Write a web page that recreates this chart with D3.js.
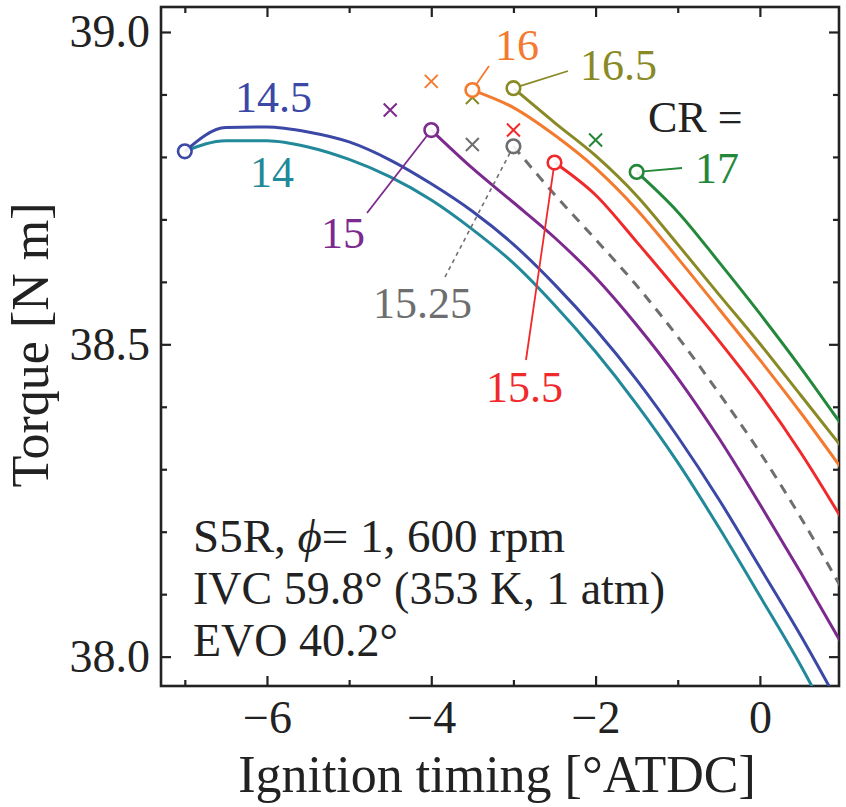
<!DOCTYPE html>
<html>
<head>
<meta charset="utf-8">
<script src="https://cdn.jsdelivr.net/npm/d3@7"></script>
<style>
body { margin: 0; background: #fff; }
text { font-family: "Liberation Serif", "Times New Roman", serif; }
</style>
</head>
<body>
<svg id="chart" width="846" height="807"></svg>
<script>
// ignition timing grid [deg ATDC]; every curve runs to the end of it
var ignition = [-7, -6.5, -6, -5.5, -5, -4.5, -4, -3.5, -3, -2.5, -2, -1.5, -1, -0.5, 0, 0.5, 1];

// torque [N m] per compression ratio (first value = open circle)
var torque14   = [38.809, 38.826, 38.826, 38.816, 38.796, 38.768, 38.731, 38.684, 38.630, 38.563, 38.488, 38.404, 38.311, 38.207, 38.097, 37.985, 37.860];
var torque14_5 = [38.809, 38.847, 38.848, 38.840, 38.824, 38.795, 38.757, 38.713, 38.660, 38.596, 38.524, 38.443, 38.352, 38.252, 38.143, 38.033, 37.915];
var torque15   = [38.843, 38.782, 38.727, 38.671, 38.607, 38.531, 38.446, 38.350, 38.244, 38.134, 38.020];
var torque15_25 = [38.817, 38.740, 38.668, 38.594, 38.512, 38.422, 38.327, 38.222, 38.108];
var torque15_5 = [38.791, 38.739, 38.664, 38.586, 38.506, 38.421, 38.326, 38.220];
var torque16   = [38.907, 38.879, 38.835, 38.782, 38.716, 38.638, 38.557, 38.475, 38.390, 38.300];
var torque16_5 = [38.910, 38.855, 38.802, 38.738, 38.660, 38.580, 38.501, 38.418, 38.335];
var torque17   = [38.776, 38.712, 38.632, 38.549, 38.462, 38.370];

// knock-onset crosses
var knockCR     = ["15", "16", "15.25", "16.5", "15.5", "17"];
var knockTiming = [-4.5, -4, -3.5, -3.5, -3, -2];
var knockTorque = [38.875, 38.921, 38.820, 38.895, 38.843, 38.827];

var xMajor = [-6, -4, -2, 0];
var xMinor = [-7, -5, -3, -1];
var yMajor = [38.0, 38.5, 39.0];
var yMinor = [38.1, 38.2, 38.3, 38.4, 38.6, 38.7, 38.8, 38.9];

var colors = {
  "14": "#21899a", "14.5": "#3b48a6", "15": "#7c2a8d", "15.25": "#6e6e6e",
  "15.5": "#f02a2a", "16": "#f37a2e", "16.5": "#898a26", "17": "#24883a"
};

var series = [
  {cr: "14", values: torque14, circle: false},
  {cr: "14.5", values: torque14_5, circle: true},
  {cr: "15", values: torque15, circle: true},
  {cr: "15.25", values: torque15_25, circle: true, dashed: true},
  {cr: "15.5", values: torque15_5, circle: true},
  {cr: "16", values: torque16, circle: true},
  {cr: "16.5", values: torque16_5, circle: true},
  {cr: "17", values: torque17, circle: true}
].map(function(s) {
  var off = ignition.length - s.values.length;
  s.points = s.values.map(function(v, i) { return [ignition[off + i], v]; });
  return s;
});

var pL = 161, pR = 839, pT = 7, pB = 686;
var x = d3.scaleLinear().domain([-7.29, 0.963]).range([pL, pR]);
var y = d3.scaleLinear().domain([37.953, 39.04]).range([pB, pT]);

var svg = d3.select("#chart");

svg.append("clipPath").attr("id", "plot")
  .append("rect").attr("x", pL).attr("y", pT)
  .attr("width", pR - pL).attr("height", pB - pT);

// axes, ticks pointing inward on all four sides
function tickAxis(axis, vals, size, labels) {
  return axis.tickValues(vals).tickSizeInner(-size).tickSizeOuter(0)
    .tickFormat(labels ? labels : "");
}
var fmtY = d3.format(".1f");
var fmtX = function(d) { return d < 0 ? "\u2212" + Math.abs(d) : d; };

var gx = svg.append("g").attr("transform", "translate(0," + pB + ")")
  .call(tickAxis(d3.axisBottom(x), xMajor, 10, fmtX).tickPadding(14));
svg.append("g").attr("transform", "translate(0," + pB + ")")
  .call(tickAxis(d3.axisBottom(x), xMinor, 6));
svg.append("g").attr("transform", "translate(0," + pT + ")")
  .call(tickAxis(d3.axisTop(x), xMajor, 10));
svg.append("g").attr("transform", "translate(0," + pT + ")")
  .call(tickAxis(d3.axisTop(x), xMinor, 6));
var gy = svg.append("g").attr("transform", "translate(" + pL + ",0)")
  .call(tickAxis(d3.axisLeft(y), yMajor, 10, fmtY).tickPadding(11));
svg.append("g").attr("transform", "translate(" + pL + ",0)")
  .call(tickAxis(d3.axisLeft(y), yMinor, 6));
svg.append("g").attr("transform", "translate(" + pR + ",0)")
  .call(tickAxis(d3.axisRight(y), yMajor, 10));
svg.append("g").attr("transform", "translate(" + pR + ",0)")
  .call(tickAxis(d3.axisRight(y), yMinor, 6));

svg.selectAll(".domain").remove();
svg.selectAll(".tick line").attr("stroke", "#222").attr("stroke-width", 2.2);
svg.selectAll(".tick text").attr("font-size", 46).attr("fill", "#222")
  .style("font-family", "'Liberation Serif', serif");
gx.selectAll(".tick text").attr("dy", "0.71em");

svg.append("rect").attr("x", pL).attr("y", pT)
  .attr("width", pR - pL).attr("height", pB - pT)
  .attr("fill", "none").attr("stroke", "#222").attr("stroke-width", 2.6);

// axis titles
svg.append("text").attr("x", (pL + pR) / 2 - 3).attr("y", 792)
  .attr("text-anchor", "middle").attr("font-size", 52).attr("fill", "#222")
  .text("Ignition timing [\u00b0ATDC]");
svg.append("text").attr("transform", "translate(48,345) rotate(-90)")
  .attr("text-anchor", "middle").attr("font-size", 52).attr("fill", "#222")
  .text("Torque [N m]");

// curves
var line = d3.line()
  .x(function(d) { return x(d[0]); })
  .y(function(d) { return y(d[1]); })
  .curve(d3.curveMonotoneX);

var plot = svg.append("g").attr("clip-path", "url(#plot)");
plot.selectAll("path.curve").data(series).enter().append("path")
  .attr("class", "curve")
  .attr("d", function(s) { return line(s.points); })
  .attr("fill", "none")
  .attr("stroke", function(s) { return colors[s.cr]; })
  .attr("stroke-width", 3)
  .attr("stroke-dasharray", function(s) { return s.dashed ? "10,8" : null; });

// leader lines from labels to the circles
var leaders = [
  {cr: "15", from: [367, 213]},
  {cr: "15.25", from: [445, 277], dotted: true},
  {cr: "15.5", from: [526, 360]},
  {cr: "16", from: [489, 66]},
  {cr: "16.5", from: [568, 71]},
  {cr: "17", from: [682, 168]}
];
var r = 6.8;
leaders.forEach(function(l) {
  var s = series.find(function(d) { return d.cr === l.cr; });
  var px = x(s.points[0][0]), py = y(s.points[0][1]);
  var dx = l.from[0] - px, dy = l.from[1] - py, len = Math.sqrt(dx * dx + dy * dy);
  svg.append("line")
    .attr("x1", l.from[0]).attr("y1", l.from[1])
    .attr("x2", px + dx / len * r).attr("y2", py + dy / len * r)
    .attr("stroke", colors[l.cr])
    .attr("stroke-width", l.dotted ? 1.6 : 1.8)
    .attr("stroke-dasharray", l.dotted ? "4,4" : null);
});

// knock crosses
var c = 6.5;
knockCR.forEach(function(cr, i) {
  var px = x(knockTiming[i]), py = y(knockTorque[i]);
  svg.append("path")
    .attr("d", "M" + (px - c) + "," + (py - c) + "L" + (px + c) + "," + (py + c) +
               "M" + (px - c) + "," + (py + c) + "L" + (px + c) + "," + (py - c))
    .attr("stroke", colors[cr]).attr("stroke-width", 2).attr("fill", "none");
});

// open circles at the start of each curve
svg.selectAll("circle.start").data(series.filter(function(s) { return s.circle; }))
  .enter().append("circle").attr("class", "start")
  .attr("cx", function(s) { return x(s.points[0][0]); })
  .attr("cy", function(s) { return y(s.points[0][1]); })
  .attr("r", r)
  .attr("fill", "white").attr("fill-opacity", 0.9)
  .attr("stroke", function(s) { return colors[s.cr]; })
  .attr("stroke-width", 2.6);

// curve labels
var labels = [
  {text: "14.5", cr: "14.5", pos: [235, 112]},
  {text: "14", cr: "14", pos: [250, 187]},
  {text: "15", cr: "15", pos: [321, 248]},
  {text: "15.25", cr: "15.25", pos: [373, 318]},
  {text: "15.5", cr: "15.5", pos: [486, 402]},
  {text: "16", cr: "16", pos: [495, 60]},
  {text: "16.5", cr: "16.5", pos: [580, 80]},
  {text: "CR =", cr: null, pos: [648, 132]},
  {text: "17", cr: "17", pos: [695, 183]}
];
svg.selectAll("text.lab").data(labels).enter().append("text")
  .attr("class", "lab")
  .attr("x", function(d) { return d.pos[0]; })
  .attr("y", function(d) { return d.pos[1]; })
  .attr("font-size", 44)
  .attr("fill", function(d) { return d.cr ? colors[d.cr] : "#222"; })
  .text(function(d) { return d.text; });

// conditions
var note = svg.append("text").attr("x", 193).attr("y", 552)
  .attr("font-size", 47).attr("fill", "#222");
note.append("tspan").text("S5R, ");
note.append("tspan").attr("font-style", "italic").text("\u03d5");
note.append("tspan").text("= 1, 600 rpm");
svg.append("text").attr("x", 193).attr("y", 604)
  .attr("font-size", 46).attr("fill", "#222")
  .text("IVC 59.8\u00b0 (353 K, 1 atm)");
svg.append("text").attr("x", 193).attr("y", 656)
  .attr("font-size", 46).attr("fill", "#222")
  .text("EVO 40.2\u00b0");
</script>
</body>
</html>
